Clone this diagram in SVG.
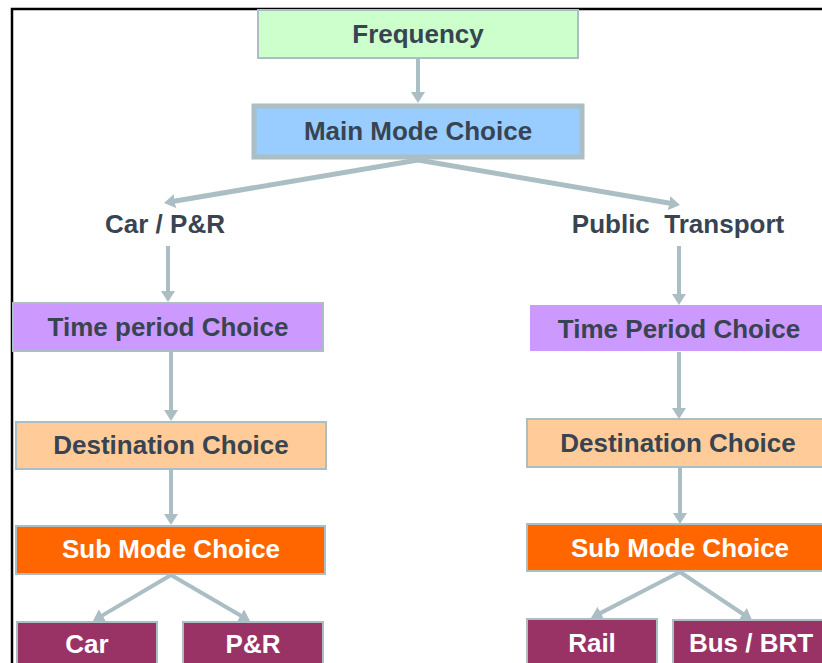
<svg xmlns="http://www.w3.org/2000/svg" width="822" height="663" viewBox="0 0 822 663">
<style>
.box{stroke:#aabec4;stroke-width:2}
.lbl{font-family:"Liberation Sans",Arial,sans-serif;font-weight:bold;font-size:26px;text-anchor:middle;fill:#384452}
.wl{fill:#ffffff}
.con{stroke:#aabec4;stroke-width:4;fill:none}
</style>
<defs>
<marker id="ah" markerUnits="userSpaceOnUse" markerWidth="12" markerHeight="14" viewBox="0 0 12 14" refX="1" refY="7" orient="auto">
<path d="M0,0 L11,7 L0,14 z" fill="#aabec4"/>
</marker>
</defs>
<rect width="822" height="663" fill="#ffffff"/>
<path d="M12,663 V9 H822" stroke="#000" stroke-width="2.5" fill="none"/>
<g id="connectors">
<path class="con" d="M418,59 V93" marker-end="url(#ah)"/>
<path class="con" style="stroke-width:5" d="M418,160 L173.9,201.3" marker-end="url(#ah)"/>
<path class="con" style="stroke-width:5" d="M418,160 L670.1,203.3" marker-end="url(#ah)"/>
<path class="con" d="M168,246 V292" marker-end="url(#ah)"/>
<path class="con" d="M171,352 V411" marker-end="url(#ah)"/>
<path class="con" d="M171,470 V515" marker-end="url(#ah)"/>
<path class="con" d="M171,575 L101.6,615.9" marker-end="url(#ah)"/>
<path class="con" d="M171,575 L241.4,616" marker-end="url(#ah)"/>
<path class="con" d="M679,246 V295" marker-end="url(#ah)"/>
<path class="con" d="M679,352 V409" marker-end="url(#ah)"/>
<path class="con" d="M680,468 V514" marker-end="url(#ah)"/>
<path class="con" d="M680,572 L599.9,613.4" marker-end="url(#ah)"/>
<path class="con" d="M680,572 L743.7,614.5" marker-end="url(#ah)"/>
</g>
<g id="frequency">
<rect class="box" x="258" y="10" width="320" height="48" fill="#ccffcc"/>
<text class="lbl" x="418" y="43">Frequency</text>
</g>
<g id="main-mode">
<rect class="box" x="254" y="106" width="328" height="51" fill="#99ccff" style="stroke-width:5"/>
<text class="lbl" x="418" y="140">Main Mode Choice</text>
</g>
<g id="car-pr-label">
<text class="lbl" x="165" y="233">Car / P&amp;R</text>
</g>
<g id="pt-label">
<text class="lbl" x="678" y="233" xml:space="preserve">Public  Transport</text>
</g>
<g id="time-left">
<rect class="box" x="13" y="303" width="310" height="48" fill="#cc99ff"/>
<text class="lbl" x="168" y="336">Time period Choice</text>
</g>
<g id="dest-left">
<rect class="box" x="16" y="422" width="310" height="47" fill="#ffcc99"/>
<text class="lbl" x="171" y="454">Destination Choice</text>
</g>
<g id="sub-left">
<rect class="box" x="16" y="526" width="309" height="48" fill="#ff6600"/>
<text class="lbl wl" x="171" y="558">Sub Mode Choice</text>
</g>
<g id="car">
<rect class="box" x="17" y="622" width="140" height="50" fill="#993366"/>
<text class="lbl wl" x="87" y="653">Car</text>
</g>
<g id="pr">
<rect class="box" x="183" y="622" width="140" height="50" fill="#993366"/>
<text class="lbl wl" x="253" y="653">P&amp;R</text>
</g>
<g id="time-right">
<rect x="530" y="305" width="310" height="46" fill="#cc99ff"/>
<text class="lbl" x="679" y="338">Time Period Choice</text>
</g>
<g id="dest-right">
<rect class="box" x="527" y="419" width="310" height="48" fill="#ffcc99"/>
<text class="lbl" x="678" y="452">Destination Choice</text>
</g>
<g id="sub-right">
<rect class="box" x="527" y="524" width="310" height="47" fill="#ff6600"/>
<text class="lbl wl" x="680" y="557">Sub Mode Choice</text>
</g>
<g id="rail">
<rect class="box" x="527" y="619" width="130" height="50" fill="#993366"/>
<text class="lbl wl" x="592" y="652">Rail</text>
</g>
<g id="bus-brt">
<rect class="box" x="673" y="620" width="160" height="50" fill="#993366"/>
<text class="lbl wl" x="751" y="652">Bus / BRT</text>
</g>
</svg>
